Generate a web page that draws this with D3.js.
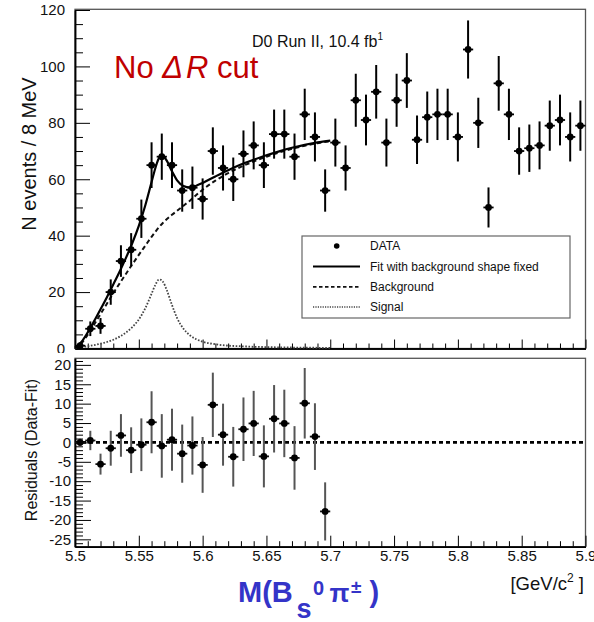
<!DOCTYPE html>
<html>
<head>
<meta charset="utf-8">
<script src="https://cdn.jsdelivr.net/npm/d3@7"></script>
<style>
  html, body { margin: 0; padding: 0; background: #fff; }
  svg { display: block; font-family: "Liberation Sans", Arial, Helvetica, sans-serif; }
</style>
</head>
<body>
<svg id="chart" width="594" height="622"></svg>
<script>
// ---- histogram: B_s pi invariant mass, 8 MeV bins ----
const binCentres = [5.504, 5.512, 5.520, 5.528, 5.536, 5.544, 5.552, 5.560, 5.568, 5.576,
                    5.584, 5.592, 5.600, 5.608, 5.616, 5.624, 5.632, 5.640, 5.648, 5.656,
                    5.664, 5.672, 5.680, 5.688, 5.696, 5.704, 5.712, 5.720, 5.728, 5.736,
                    5.744, 5.752, 5.760, 5.768, 5.776, 5.784, 5.792, 5.800, 5.808, 5.816,
                    5.824, 5.832, 5.840, 5.848, 5.856, 5.864, 5.872, 5.880, 5.888, 5.896];
const binHalfWidth = 0.004;
const counts = [1, 7, 8, 20, 31, 35, 46, 65, 68, 65,
                56, 57, 53, 70, 64, 60, 69, 72, 65, 76,
                76, 68, 83, 75, 56, 73, 64, 88, 81, 91,
                73, 88, 95, 74, 82, 83, 83, 75, 106, 80,
                50, 94, 83, 70, 71, 72, 79, 81, 75, 79];
const countErrors = [1.0, 2.6, 2.8, 4.5, 5.6, 5.9, 6.8, 8.1, 8.2, 8.1,
                     7.5, 7.5, 7.3, 8.4, 8.0, 7.7, 8.3, 8.5, 8.1, 8.7,
                     8.7, 8.2, 9.1, 8.7, 7.5, 8.5, 8.0, 9.4, 9.0, 9.5,
                     8.5, 9.4, 9.7, 8.6, 9.1, 9.1, 9.1, 8.7, 10.3, 8.9,
                     7.1, 9.7, 9.1, 8.4, 8.4, 8.5, 8.9, 9.0, 8.7, 8.9];

// ---- residuals (data - fit) inside the fit range ----
const residualMasses = [5.504, 5.512, 5.520, 5.528, 5.536, 5.544, 5.552, 5.560, 5.568, 5.576,
                        5.584, 5.592, 5.600, 5.608, 5.616, 5.624, 5.632, 5.640, 5.648, 5.656,
                        5.664, 5.672, 5.680, 5.688, 5.696];
const residuals = [0, 0.5, -5.6, -1.5, 1.8, -2.0, -0.6, 5.2, -0.9, 0.7,
                   -2.9, -0.8, -5.8, 9.7, 2.0, -3.7, 3.4, 4.9, -3.6, 6.1,
                   4.9, -4.0, 10.1, 1.5, -17.8];
const residualErrors = [1.0, 2.5, 2.7, 4.5, 5.5, 5.9, 6.8, 8.0, 8.2, 8.0,
                        7.5, 7.5, 7.2, 8.3, 8.0, 7.7, 8.2, 8.4, 8.0, 8.7,
                        8.7, 8.2, 9.1, 8.6, 7.5];

// ---- fit curves sampled over the fit range ----
const fitMasses = [5.500, 5.505, 5.510, 5.515, 5.520, 5.525, 5.530, 5.535, 5.540, 5.545,
                   5.550, 5.555, 5.560, 5.563, 5.566, 5.569, 5.572, 5.576, 5.580, 5.585,
                   5.590, 5.595, 5.600, 5.610, 5.620, 5.630, 5.640, 5.650, 5.660, 5.670,
                   5.680, 5.690, 5.700];
const backgroundCurve = [0, 1.8, 4.9, 8.5, 12.2, 15.9, 19.6, 23.1, 26.5, 29.9,
                         33.2, 36.4, 39.6, 41.4, 43.1, 44.6, 45.9, 47.4, 48.8, 50.6,
                         52.4, 54.4, 56.3, 59.5, 62.2, 64.4, 66.3, 68.0, 69.5, 70.8,
                         71.9, 72.8, 73.5];
const signalCurve = [0.3, 0.5, 0.8, 1.2, 1.7, 2.3, 3.1, 4.2, 5.7, 7.6,
                     10.3, 14.2, 19.4, 22.6, 24.5, 23.6, 20.6, 15.4, 10.8, 7.0,
                     4.7, 3.3, 2.4, 1.5, 1.0, 0.8, 0.6, 0.5, 0.4, 0.35,
                     0.3, 0.25, 0.2];
const totalFit = [0.3, 2.3, 5.7, 9.7, 13.9, 18.2, 22.7, 27.3, 32.2, 37.5,
                  43.5, 50.6, 59.0, 64.0, 67.6, 68.2, 66.5, 62.8, 59.6, 57.6,
                  57.1, 57.7, 58.7, 61.0, 63.2, 65.2, 66.9, 68.5, 69.9, 71.15,
                  72.2, 73.05, 73.7];

// ---- axis ticks and labels ----
const countTicks = [0, 20, 40, 60, 80, 100, 120];
const countMinorTicks = [5, 10, 15, 25, 30, 35, 45, 50, 55, 65, 70, 75, 85, 90, 95, 105, 110, 115];
const residualTicks = [20, 15, 10, 5, 0, -5, -10, -15, -20, -25];
const massTicks = [5.5, 5.55, 5.6, 5.65, 5.7, 5.75, 5.8, 5.85, 5.9];
const legendLabels = ["DATA", "Fit with background shape fixed", "Background", "Signal"];

// ---------------------------------------------------------------
const svg = d3.select("#chart");
const left = 75, right = 585.5;
const topPanel = { top: 10, bottom: 348.5 };
const resPanel = { top: 358.3, bottom: 546.7 };

const x = d3.scaleLinear().domain([5.5, 5.9]).range([left, right]);
const yTop = d3.scaleLinear().domain([0, 120]).range([topPanel.bottom, topPanel.top]);
const yRes = d3.scaleLinear().domain([-26.9, 21.7]).range([resPanel.bottom, resPanel.top]);

const minorMass = d3.range(5.5, 5.9001, 0.01).filter(v => Math.abs(v * 20 - Math.round(v * 20)) > 1e-6);
const minorRes = d3.range(-26, 22, 1).filter(v => v % 5 !== 0);

function styleAxis(g, fontSize) {
  g.select(".domain").attr("stroke", "#000").attr("stroke-width", 1.5);
  g.selectAll(".tick line").attr("stroke", "#000").attr("stroke-width", 1);
  g.selectAll(".tick text").attr("font-size", fontSize).attr("fill", "#111")
    .attr("font-family", "Liberation Sans, Arial, sans-serif");
}

// ===================== upper panel =====================
const up = svg.append("g");
up.append("rect").attr("x", left).attr("y", topPanel.top - 0.7)
  .attr("width", right - left).attr("height", topPanel.bottom - topPanel.top + 0.7)
  .attr("fill", "none").attr("stroke", "#555").attr("stroke-width", 1.3);

up.append("g").attr("transform", `translate(${left},0)`)
  .call(d3.axisLeft(yTop).tickValues(countMinorTicks).tickSizeInner(-8).tickSizeOuter(0).tickFormat(""))
  .call(g => styleAxis(g, 15));
up.append("g").attr("transform", `translate(${left},0)`)
  .call(d3.axisLeft(yTop).tickValues(countTicks).tickSizeInner(-15).tickSizeOuter(0).tickPadding(10).tickFormat(d3.format("d")))
  .call(g => styleAxis(g, 15));
up.append("g").attr("transform", `translate(0,${topPanel.bottom})`)
  .call(d3.axisBottom(x).tickValues(minorMass).tickSizeInner(-5).tickSizeOuter(0).tickFormat(""))
  .call(g => styleAxis(g, 15));
up.append("g").attr("transform", `translate(0,${topPanel.bottom})`)
  .call(d3.axisBottom(x).tickValues(massTicks).tickSizeInner(-9).tickSizeOuter(0).tickFormat(""))
  .call(g => styleAxis(g, 15));

// fit components
const curve = d3.line().x(d => x(d[0])).y(d => yTop(d[1])).curve(d3.curveMonotoneX);
up.append("path").datum(d3.zip(fitMasses, signalCurve)).attr("d", curve)
  .attr("fill", "none").attr("stroke", "#444").attr("stroke-width", 1.8).attr("stroke-dasharray", "1.6,1.6");
up.append("path").datum(d3.zip(fitMasses, backgroundCurve)).attr("d", curve)
  .attr("fill", "none").attr("stroke", "#111").attr("stroke-width", 2).attr("stroke-dasharray", "4.5,3");
up.append("path").datum(d3.zip(fitMasses, totalFit)).attr("d", curve)
  .attr("fill", "none").attr("stroke", "#000").attr("stroke-width", 2.2);

// data points with errors
const pts = up.append("g").selectAll("g").data(d3.zip(binCentres, counts, countErrors)).join("g");
pts.append("line")
  .attr("x1", d => x(d[0])).attr("x2", d => x(d[0]))
  .attr("y1", d => yTop(d[1] - d[2])).attr("y2", d => yTop(d[1] + d[2]))
  .attr("stroke", "#000").attr("stroke-width", 2);
pts.append("line")
  .attr("x1", d => x(d[0] - binHalfWidth)).attr("x2", d => x(d[0] + binHalfWidth))
  .attr("y1", d => yTop(d[1])).attr("y2", d => yTop(d[1]))
  .attr("stroke", "#000").attr("stroke-width", 1.8);
pts.append("circle").attr("cx", d => x(d[0])).attr("cy", d => yTop(d[1])).attr("r", 3.4).attr("fill", "#000");

// legend
const lg = up.append("g");
lg.append("rect").attr("x", 302).attr("y", 236).attr("width", 268).attr("height", 82)
  .attr("fill", "#fff").attr("stroke", "#666").attr("stroke-width", 1.2);
const rowY = [246, 266.5, 286.8, 307];
lg.append("circle").attr("cx", 336.7).attr("cy", rowY[0]).attr("r", 2.8).attr("fill", "#000");
lg.append("line").attr("x1", 313).attr("x2", 360).attr("y1", rowY[1]).attr("y2", rowY[1])
  .attr("stroke", "#000").attr("stroke-width", 2);
lg.append("line").attr("x1", 313).attr("x2", 360).attr("y1", rowY[2]).attr("y2", rowY[2])
  .attr("stroke", "#111").attr("stroke-width", 1.8).attr("stroke-dasharray", "3.5,2.5");
lg.append("line").attr("x1", 313).attr("x2", 360).attr("y1", rowY[3]).attr("y2", rowY[3])
  .attr("stroke", "#444").attr("stroke-width", 1.3).attr("stroke-dasharray", "1.2,1.2");
lg.selectAll("text.lab").data(legendLabels).join("text").attr("class", "lab")
  .attr("x", 370).attr("y", (d, i) => rowY[i]).attr("dy", "0.36em")
  .attr("font-size", 12).attr("fill", "#111").text(d => d);

// headline texts
const run = svg.append("text").attr("x", 252).attr("y", 47).attr("font-size", 16).attr("fill", "#111");
run.append("tspan").text("D0 Run II, 10.4 fb");
run.append("tspan").attr("font-size", 10).attr("dy", -7).text("1");

const cut = svg.append("text").attr("x", 114).attr("y", 78).attr("font-size", 31).attr("fill", "#c00000");
cut.append("tspan").text("No ");
cut.append("tspan").attr("font-style", "italic").text("Δ");
cut.append("tspan").attr("dx", 3).attr("font-style", "italic").text("R");
cut.append("tspan").text(" cut");

svg.append("text").attr("transform", "translate(36,154) rotate(-90)")
  .attr("text-anchor", "middle").attr("font-size", 20).attr("fill", "#111").text("N events / 8 MeV");

// ===================== residual panel =====================
svg.append("rect").attr("x", 0).attr("y", 353).attr("width", 594).attr("height", 269).attr("fill", "#fff");
const lo = svg.append("g");
lo.append("rect").attr("x", left).attr("y", resPanel.top)
  .attr("width", right - left).attr("height", resPanel.bottom - resPanel.top)
  .attr("fill", "none").attr("stroke", "#555").attr("stroke-width", 1.3);

lo.append("g").attr("transform", `translate(${left},0)`)
  .call(d3.axisLeft(yRes).tickValues(minorRes).tickSizeInner(-8).tickSizeOuter(0).tickFormat(""))
  .call(g => styleAxis(g, 15));
lo.append("g").attr("transform", `translate(${left},0)`)
  .call(d3.axisLeft(yRes).tickValues(residualTicks).tickSizeInner(-16).tickSizeOuter(0).tickPadding(4).tickFormat(d => String(d)))
  .call(g => styleAxis(g, 15));
lo.append("g").attr("transform", `translate(0,${resPanel.bottom})`)
  .call(d3.axisBottom(x).tickValues(minorMass).tickSizeInner(-5.5).tickSizeOuter(0).tickFormat(""))
  .call(g => styleAxis(g, 15));
lo.append("g").attr("transform", `translate(0,${resPanel.bottom})`)
  .call(d3.axisBottom(x).tickValues(massTicks).tickSizeInner(-11).tickSizeOuter(0).tickPadding(4).tickFormat(d => String(d)))
  .call(g => styleAxis(g, 15));

// zero reference
lo.append("line").attr("x1", left).attr("x2", right).attr("y1", yRes(0)).attr("y2", yRes(0))
  .attr("stroke", "#000").attr("stroke-width", 2.6).attr("stroke-dasharray", "4,3");

const rp = lo.append("g").selectAll("g").data(d3.zip(residualMasses, residuals, residualErrors)).join("g");
rp.append("line")
  .attr("x1", d => x(d[0])).attr("x2", d => x(d[0]))
  .attr("y1", d => yRes(d[1] - d[2])).attr("y2", d => yRes(d[1] + d[2]))
  .attr("stroke", "#555").attr("stroke-width", 2);
rp.append("line")
  .attr("x1", d => x(d[0] - binHalfWidth)).attr("x2", d => x(d[0] + binHalfWidth))
  .attr("y1", d => yRes(d[1])).attr("y2", d => yRes(d[1]))
  .attr("stroke", "#111").attr("stroke-width", 1.8);
rp.append("circle").attr("cx", d => x(d[0])).attr("cy", d => yRes(d[1])).attr("r", 3.4).attr("fill", "#000");

svg.append("text").attr("transform", "translate(36.5,450) rotate(-90)")
  .attr("text-anchor", "middle").attr("font-size", 16).attr("fill", "#111").text("Residuals (Data-Fit)");

const unit = svg.append("text").attr("x", 584).attr("y", 590).attr("text-anchor", "end")
  .attr("font-size", 18.5).attr("fill", "#111");
unit.append("tspan").text("[GeV/c");
unit.append("tspan").attr("font-size", 12).attr("dy", -8).text("2");
unit.append("tspan").attr("dy", 8).text(" ]");

// mass variable label
const blue = "#3434c8";
const mlab = svg.append("text").attr("y", 602).attr("font-weight", "bold").attr("fill", blue);
mlab.append("tspan").attr("x", 238).attr("font-size", 29).text("M(B");
mlab.append("tspan").attr("x", 296.5).attr("y", 618).attr("font-size", 27).text("s");
mlab.append("tspan").attr("x", 313).attr("y", 595).attr("font-size", 20).text("0");
mlab.append("tspan").attr("x", 329.5).attr("y", 602).attr("font-size", 26).text("π");
mlab.append("tspan").attr("x", 351).attr("y", 593).attr("font-size", 19).text("±");
mlab.append("tspan").attr("x", 369.5).attr("y", 602).attr("font-size", 29).text(")");
</script>
</body>
</html>
